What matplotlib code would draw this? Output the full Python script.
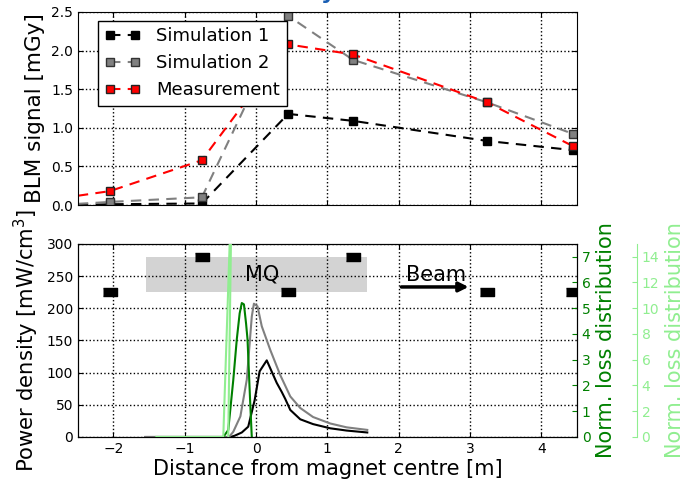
import matplotlib
matplotlib.use('Agg')
import matplotlib.pyplot as plt
import numpy as np

# BLM signals along the magnet
blm_pos = [-2.05, -0.76, 0.45, 1.36, 3.24, 4.45]
sim1 = [0.01, 0.02, 1.18, 1.09, 0.83, 0.71]
sim2 = [0.04, 0.10, 2.45, 1.88, 1.33, 0.92]
meas = [0.18, 0.58, 2.08, 1.95, 1.33, 0.76]
# value of each dashed line at the left edge
edge_x = -2.5
sim1_edge, sim2_edge, meas_edge = 0.0, 0.015, 0.12

# BLM positions drawn in the lower panel
blm_y = [225, 280, 225, 280, 225, 225]

# power density in the coil
pd1_x = [-1.55, -0.36, -0.3, -0.2, -0.11, -0.02, 0.05, 0.15, 0.29, 0.36, 0.41, 0.48, 0.62, 0.8, 1.04, 1.27, 1.56]
pd1_y = [0, 0, 2, 7, 16, 57, 102, 119, 84, 70, 59, 42, 27.5, 20, 13.5, 10, 7]
pd2_x = [-1.55, -0.38, -0.32, -0.22, -0.13, -0.06, -0.03, 0.02, 0.08, 0.2, 0.34, 0.48, 0.62, 0.8, 1.04, 1.27, 1.56]
pd2_y = [0, 0, 8, 32, 89, 187, 207, 203, 172, 135, 96, 63, 45, 31, 21, 15, 11]

# normalised loss distributions
loss1_x = [-1.4, -0.46, -0.39, -0.32, -0.27, -0.23, -0.2, -0.17, -0.14, -0.12, -0.08, -0.06]
loss1_y = [0, 0, 0.27, 2.2, 3.8, 4.8, 5.2, 5.15, 4.4, 3.8, 1.2, 0]
loss2_x = [-1.4, -0.46, -0.34, -0.39]
loss2_y = [0, 0, 20, 0]

plt.rcParams.update({
    'xtick.direction': 'in', 'ytick.direction': 'in',
    'xtick.top': True, 'ytick.right': True,
    'xtick.major.size': 3.5, 'ytick.major.size': 3.5,
    'grid.linestyle': ':', 'grid.color': 'k', 'grid.linewidth': 1.0,
    'font.size': 10, 'mathtext.default': 'regular',
})

fig = plt.figure(figsize=(6.95, 4.79), dpi=100)
ax1 = fig.add_axes([0.112, 0.572, 0.718, 0.403])
ax = fig.add_axes([0.112, 0.0877, 0.718, 0.4033])

# ---- top panel
dash = (5, 3.5)
ax1.plot([edge_x] + blm_pos, [sim1_edge] + sim1, '--', dashes=dash, color='k', lw=1.5,
         marker='s', ms=6, mfc='k', mec='k', markevery=list(range(1, 7)), label='Simulation 1')
ax1.plot([edge_x] + blm_pos, [sim2_edge] + sim2, '--', dashes=dash, color='gray', lw=1.5,
         marker='s', ms=6, mfc='gray', mec='#333333', markevery=list(range(1, 7)), label='Simulation 2')
ax1.plot([edge_x] + blm_pos, [meas_edge] + meas, '--', dashes=dash, color='r', lw=1.5,
         marker='s', ms=6, mfc='r', mec='#222222', markevery=list(range(1, 7)), label='Measurement')
ax1.set_xlim(-2.5, 4.5)
ax1.set_ylim(0, 2.5)
ax1.set_xticks(range(-2, 5))
ax1.set_xticklabels([])
ax1.set_yticks(np.arange(0, 2.51, 0.5))
ax1.grid(True)
ax1.set_ylabel('BLM signal [mGy]', fontsize=15.5)
leg = ax1.legend(loc='upper left', bbox_to_anchor=(0.04, 0.953), borderaxespad=0,
                 numpoints=2, fontsize=13, fancybox=False, framealpha=1,
                 handlelength=2.0, handletextpad=0.9, labelspacing=0.5, borderpad=0.35)
leg.get_frame().set_edgecolor('k')

# ---- bottom panel
ax.fill_between([-1.55, 1.55], 225, 280, color='#d3d3d3', lw=0, zorder=1)
ax.text(0.09, 252, 'MQ', fontsize=15, ha='center', va='center')
ax.annotate('', xy=(3.02, 233), xytext=(2.0, 233),
            arrowprops=dict(arrowstyle='-|>', color='k', lw=2.5, mutation_scale=14))
ax.text(2.52, 252, 'Beam', fontsize=15, ha='center', va='center')
ax.plot(blm_pos, blm_y, ls='none', marker=[(-1, -0.62), (1, -0.62), (1, 0.62), (-1, 0.62)],
        ms=10, color='k', zorder=5)
ax.plot(pd1_x, pd1_y, color='k', lw=1.5)
ax.plot(pd2_x, pd2_y, color='gray', lw=1.5)
ax.set_xlim(-2.5, 4.5)
ax.set_ylim(0, 300)
ax.set_xticks(range(-2, 5))
ax.set_yticks(range(0, 301, 50))
ax.tick_params(axis='y', right=False)
ax.grid(True)
ax.set_ylabel('Power density [mW/cm$^3$]', fontsize=15.2)
ax.set_xlabel('Distance from magnet centre [m]', fontsize=15, labelpad=2)

ax2 = ax.twinx()
ax2.plot(loss1_x, loss1_y, color='green', lw=1.5)
ax2.set_ylim(0, 7.5)
ax2.set_yticks(range(0, 8))
ax2.tick_params(axis='y', colors='green', direction='in')
ax2.set_ylabel('Norm. loss distribution', color='green', fontsize=15)

ax3 = ax.twinx()
ax3.plot(loss2_x, loss2_y, color='lightgreen', lw=1.5)
ax3.set_ylim(0, 15)
ax3.set_yticks(range(0, 15, 2))
ax3.spines['right'].set_position(('axes', 1.12))
ax3.spines['right'].set_color('lightgreen')
ax3.tick_params(axis='y', colors='lightgreen', direction='in')
ax3.set_ylabel('Norm. loss distribution', color='lightgreen', fontsize=15)
for s in ['top', 'left', 'bottom']:
    ax3.spines[s].set_visible(False)

# cut-off title glyph at the top edge
fig.text(0.472, 1.003, 'y', color='#1a5fb4', fontsize=16, fontweight='bold',
         ha='center', va='baseline')

fig.savefig('out.png', dpi=100)
